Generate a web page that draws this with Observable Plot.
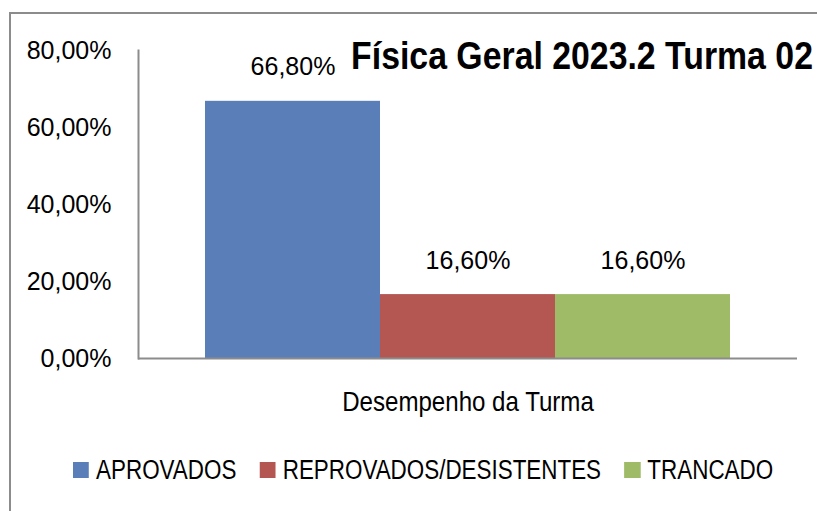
<!DOCTYPE html>
<html>
<head>
<meta charset="utf-8">
<script src="https://cdn.jsdelivr.net/npm/d3@7"></script>
<script src="https://cdn.jsdelivr.net/npm/@observablehq/plot@0.6"></script>
<style>
  html, body { margin: 0; padding: 0; background: #fff; }
  #wrap { position: relative; width: 817px; height: 511px; overflow: hidden; background: #fff; }
  #border { position: absolute; left: 9px; top: 12px; width: 900px; height: 600px; border: 2px solid #8c8c8c; box-sizing: border-box; }
  #chart { position: absolute; left: 0; top: 0; }
  #title { position: absolute; right: 4px; top: 37px; font-family: "Liberation Sans", Arial, sans-serif; font-weight: bold; font-size: 38px; line-height: 38px; color: #000; white-space: nowrap; transform: scaleX(0.89); transform-origin: right center; }
  #xlabel { position: absolute; left: 467.5px; top: 388px; font-family: "Liberation Sans", Arial, sans-serif; font-size: 28px; line-height: 28px; color: #000; white-space: nowrap; transform: translateX(-50%) scaleX(0.86); transform-origin: center center; }
  #legend { position: absolute; left: 73px; top: 456px; display: flex; align-items: center; gap: 28px; font-family: "Liberation Sans", Arial, sans-serif; font-size: 27px; line-height: 28px; color: #000; white-space: nowrap; transform: scaleX(0.83); transform-origin: left center; }
  .item { display: flex; align-items: center; gap: 8.5px; }
  .sw { width: 19.3px; height: 16px; display: inline-block; }
</style>
</head>
<body>
<div id="wrap">
  <div id="border"></div>
  <div id="chart"></div>
  <div id="title"></div>
  <div id="xlabel"></div>
  <div id="legend"></div>
</div>
<script>
const titleText = "Física Geral 2023.2 Turma 02";
const axisLabel = "Desempenho da Turma";
const categories = ["APROVADOS", "REPROVADOS/DESISTENTES", "TRANCADO"];
const values = [0.668, 0.166, 0.166];
const palette = ["#5a7fb8", "#b45652", "#9fbb68"];
const yTicks = [0, 0.2, 0.4, 0.6, 0.8];

const fmt = d => (d * 100).toFixed(2).replace(".", ",") + "%";
const data = categories.map((c, i) => ({cat: c, value: values[i]}));

const chart = Plot.plot({
  width: 817,
  height: 511,
  marginLeft: 138,
  marginRight: 20,
  marginTop: 50,
  marginBottom: 153,
  style: {fontFamily: "'Liberation Sans', Arial, sans-serif", fontSize: "25px", color: "#000", background: "transparent"},
  x: {domain: categories, padding: 0, insetLeft: 66, insetRight: 66, axis: null},
  y: {domain: [0, 0.8], axis: null},
  color: {domain: categories, range: palette},
  marks: [
    Plot.axisY({ticks: yTicks, tickFormat: fmt, tickSize: 0, tickPadding: 27, label: null, fontSize: 25}),
    Plot.barY(data, {x: "cat", y: "value", fill: "cat"}),
    Plot.text(data, {x: "cat", y: "value", text: d => fmt(d.value), dy: -34, lineAnchor: "middle", fontSize: 25, fill: "#000"}),
    Plot.frame({anchor: "left", stroke: "#8c8c8c", strokeWidth: 2}),
    Plot.ruleY([0], {stroke: "#8c8c8c", strokeWidth: 2})
  ]
});
document.getElementById("chart").appendChild(chart);

document.getElementById("title").textContent = titleText;
document.getElementById("xlabel").textContent = axisLabel;

const legend = document.getElementById("legend");
categories.forEach((c, i) => {
  const it = document.createElement("div");
  it.className = "item";
  const sw = document.createElement("span");
  sw.className = "sw";
  sw.style.background = palette[i];
  const lb = document.createElement("span");
  lb.textContent = c;
  it.appendChild(sw);
  it.appendChild(lb);
  legend.appendChild(it);
});
</script>
</body>
</html>
